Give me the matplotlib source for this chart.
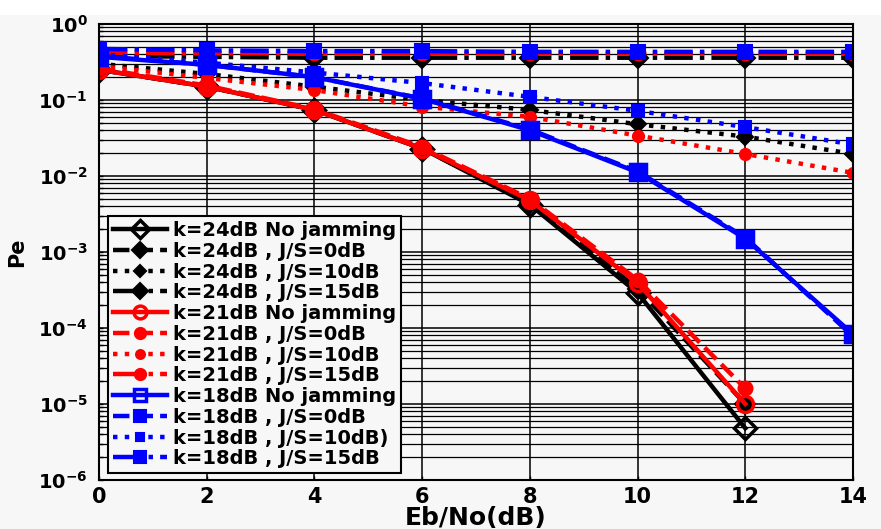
import math

import matplotlib
matplotlib.use("Agg")
import matplotlib.pyplot as plt
from matplotlib.ticker import FixedLocator, FuncFormatter, NullFormatter
from matplotlib.patches import Rectangle

plt.rcParams["font.family"] = ["DejaVu Sans"]
plt.rcParams["mathtext.fontset"] = "custom"
plt.rcParams["mathtext.bf"] = "DejaVu Sans:bold"
plt.rcParams["mathtext.rm"] = "DejaVu Sans"

ebno = [0, 2, 4, 6, 8, 10, 12, 14]

k24_nojam = [0.25, 0.15, 0.074, 0.023, 0.0042, 2.9e-4, 4.8e-6]
k24_js0 = [0.25, 0.15, 0.074, 0.023, 0.0044, 3.3e-4, 1.0e-5]
k24_js10 = [0.30, 0.22, 0.15, 0.10, 0.074, 0.048, 0.033, 0.0195]
k24_js15 = [0.38, 0.37, 0.36, 0.36, 0.36, 0.36, 0.36, 0.36]

k21_nojam = [0.25, 0.15, 0.074, 0.023, 0.0048, 3.9e-4, 1.0e-5]
k21_js0 = [0.26, 0.155, 0.076, 0.024, 0.005, 4.3e-4, 1.6e-5]
k21_js10 = [0.28, 0.195, 0.135, 0.082, 0.060, 0.034, 0.0195, 0.011]
k21_js15 = [0.42, 0.41, 0.41, 0.41, 0.41, 0.41, 0.41, 0.41]

k18_nojam = [0.37, 0.29, 0.20, 0.104, 0.040, 0.0112, 0.0015, 8.3e-5]
k18_js0 = [0.38, 0.29, 0.20, 0.105, 0.041, 0.0115, 0.00155, 7.8e-5]
k18_js10 = [0.40, 0.31, 0.23, 0.167, 0.11, 0.072, 0.044, 0.026]
k18_js15 = [0.47, 0.45, 0.44, 0.44, 0.43, 0.43, 0.43, 0.43]

y_decades = [1e-6, 1e-5, 1e-4, 1e-3, 1e-2, 1e-1, 1]

series = [
    ("k=24dB No jamming", k24_nojam, "black", "-", "D", True),
    ("k=24dB , J/S=0dB", k24_js0, "black", "--", "D", False),
    ("k=24dB , J/S=10dB", k24_js10, "black", ":", "D", False),
    ("k=24dB , J/S=15dB", k24_js15, "black", "-.", "D", False),
    ("k=21dB No jamming", k21_nojam, "red", "-", "o", True),
    ("k=21dB , J/S=0dB", k21_js0, "red", "--", "o", False),
    ("k=21dB , J/S=10dB", k21_js10, "red", ":", "o", False),
    ("k=21dB , J/S=15dB", k21_js15, "red", "-.", "o", False),
    ("k=18dB No jamming", k18_nojam, "blue", "-", "s", True),
    ("k=18dB , J/S=0dB", k18_js0, "blue", "--", "s", False),
    ("k=18dB , J/S=10dB)", k18_js10, "blue", ":", "s", False),
    ("k=18dB , J/S=15dB", k18_js15, "blue", "-.", "s", False),
]

bg = "#f7f7f7"
fig = plt.figure(figsize=(8.81, 5.29), dpi=100, facecolor=bg)
fig.patches.append(Rectangle((0, 1 - 15 / 529), 1, 15 / 529, transform=fig.transFigure,
                             facecolor="white", edgecolor="none", zorder=0))
ax = fig.add_axes([99 / 881, 1 - 480 / 529, 754 / 881, 456 / 529], facecolor=bg)

for label, vals, color, ls, marker, hollow in series:
    ms = 11.5 if hollow else (8 if ls == ":" else 10)
    ax.semilogy(ebno[:len(vals)], vals, color=color, linestyle=ls, linewidth=3.2,
                marker=marker, markersize=ms,
                markerfacecolor="none" if hollow else color,
                markeredgecolor=color, markeredgewidth=2.5 if hollow else 1.5,
                label=label)

ax.set_xlim(0, 14)
ax.set_ylim(1e-6, 1)
ax.set_xticks(ebno)
ax.yaxis.set_major_locator(FixedLocator(y_decades))
minor = [m * d for d in y_decades[:-1] for m in range(2, 10)]
ax.yaxis.set_minor_locator(FixedLocator(minor))
ax.yaxis.set_minor_formatter(NullFormatter())
ax.yaxis.set_major_formatter(FuncFormatter(lambda v, p: r"$\mathbf{10^{%d}}$" % round(math.log10(v))))

ax.grid(which="major", color="black", linewidth=1.1)
ax.grid(which="minor", axis="y", color="black", linewidth=0.9)
ax.set_axisbelow(True)
for s in ax.spines.values():
    s.set_linewidth(1.5)
ax.tick_params(which="both", direction="in", length=3, width=1)
ax.tick_params(axis="x", labelsize=15, pad=5)
ax.tick_params(axis="y", labelsize=14, pad=8)
for t in ax.get_xticklabels():
    t.set_fontweight("bold")

ax.set_xlabel("Eb/No(dB)", fontsize=18, fontweight="bold", labelpad=-1)
ax.set_ylabel("Pe", fontsize=15, fontweight="bold", labelpad=8)

leg = ax.legend(loc="lower left", bbox_to_anchor=(0.012, 0.015), borderaxespad=0,
                prop={"weight": "bold", "size": 14},
                handlelength=2.8, labelspacing=0.09, borderpad=0.25, handletextpad=0.3,
                markerscale=0.8, fancybox=False, framealpha=1, facecolor=bg,
                edgecolor="black")
leg.get_frame().set_linewidth(1.5)

fig.savefig("out.png", dpi=100, facecolor=bg)
